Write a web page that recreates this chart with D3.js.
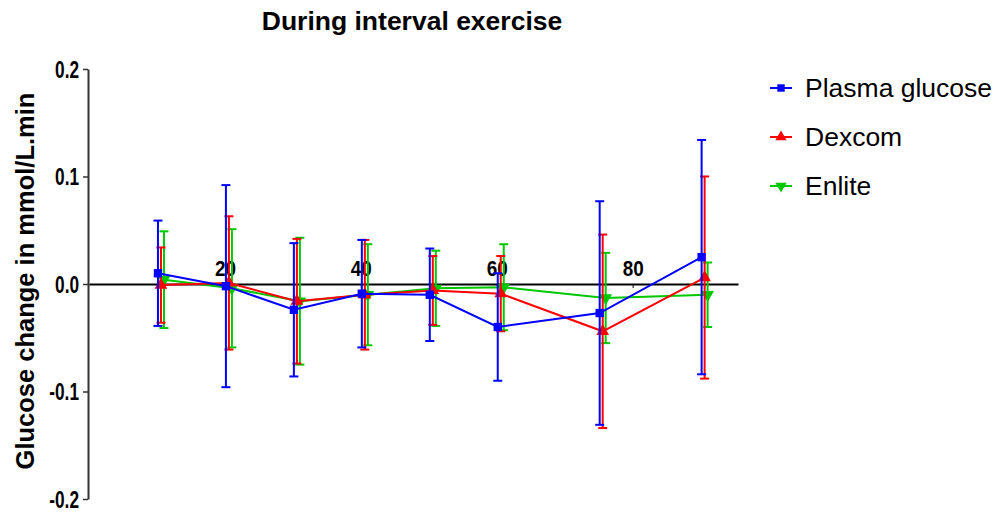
<!DOCTYPE html>
<html>
<head>
<meta charset="utf-8">
<script src="https://cdn.jsdelivr.net/npm/d3@7"></script>
<style>
  html, body { margin: 0; padding: 0; background: #fff; }
  svg { display: block; }
</style>
</head>
<body>
<svg id="chart" width="999" height="513"></svg>
<script>
// Sampling times (min) during the interval exercise session
const times = [10, 20, 30, 40, 50, 60, 75, 90];

// Mean rate of glucose change (mmol/L.min) and SD for each measurement method
const plasma    = [0.010, -0.002, -0.024, -0.009, -0.010, -0.040, -0.027, 0.025];
const plasmaErr = [0.049,  0.094,  0.062,  0.050,  0.043,  0.050,  0.104, 0.109];
const dexcom    = [-0.001, 0.001, -0.016, -0.010, -0.006, -0.009, -0.044, 0.006];
const dexcomErr = [0.035,  0.062,  0.058,  0.051,  0.032,  0.035,  0.090, 0.094];
const enlite    = [0.004, -0.004, -0.016, -0.010, -0.004, -0.003, -0.013, -0.010];
const enliteErr = [0.045,  0.055,  0.059,  0.047,  0.035,  0.040,  0.042, 0.030];

const seriesNames = ["Plasma glucose", "Dexcom", "Enlite"];
const xTicks = [20, 40, 60, 80];
const yTicks = [-0.2, -0.1, 0.0, 0.1, 0.2];
const yTickLabels = ["-0.2", "-0.1", "0.0", "0.1", "0.2"];

const series = [
  { name: seriesNames[0], values: plasma, errs: plasmaErr, color: "#0000ff", symbol: d3.symbolSquare, rotate: 0,   dodge: 1 },
  { name: seriesNames[1], values: dexcom, errs: dexcomErr, color: "#ff0000", symbol: d3.symbolTriangle, rotate: 0, dodge: 4 },
  { name: seriesNames[2], values: enlite, errs: enliteErr, color: "#00c800", symbol: d3.symbolTriangle, rotate: 180, dodge: 7 }
];

const FONT = "'Liberation Sans', Arial, Helvetica, sans-serif";
const svg = d3.select("#chart");

const x = d3.scaleLinear().domain([0, 95.5]).range([89, 738]);
const y = d3.scaleLinear().domain([-0.2, 0.2]).range([499, 69]);

// Title
svg.append("text")
  .attr("x", 412).attr("y", 30)
  .attr("text-anchor", "middle")
  .style("font-family", FONT)
  .style("font-weight", "bold")
  .style("font-size", "26.5px")
  .text("During interval exercise");

// Y axis title
svg.append("text")
  .attr("transform", "translate(34,281) rotate(-90)")
  .attr("text-anchor", "middle")
  .style("font-family", FONT)
  .style("font-weight", "bold")
  .style("font-size", "25.5px")
  .text("Glucose change in mmol/L.min");

// Y axis (condensed bold tick labels)
const yAxis = svg.append("g")
  .attr("transform", `translate(${x(0) - 1},0)`)
  .call(d3.axisLeft(y).tickValues(yTicks)
    .tickFormat((d, i) => yTickLabels[i])
    .tickSize(5).tickSizeOuter(0));
yAxis.select(".domain").attr("stroke", "#333").attr("stroke-width", 2);
yAxis.selectAll(".tick line").attr("stroke", "#333").attr("stroke-width", 1.5);
yAxis.selectAll(".tick text")
  .attr("x", -12)
  .attr("dy", "0.36em")
  .attr("transform", "scale(0.75,1)")
  .attr("fill", "#000")
  .style("font-family", FONT)
  .style("font-weight", "bold")
  .style("font-size", "23px");

// X axis drawn along y = 0, labels sit above the line
const xAxis = svg.append("g")
  .attr("transform", `translate(0,${y(0)})`)
  .call(d3.axisBottom(x).tickValues(xTicks).tickFormat(d3.format("d"))
    .tickSize(4).tickSizeOuter(0));
xAxis.select(".domain").attr("stroke", "#000").attr("stroke-width", 2);
xAxis.selectAll(".tick line").attr("stroke", "#000").attr("stroke-width", 1);
xAxis.selectAll(".tick text")
  .attr("y", -8).attr("dy", 0)
  .attr("transform", "scale(0.86,1)")
  .attr("fill", "#000")
  .style("font-family", FONT)
  .style("font-weight", "bold")
  .style("font-size", "22px");

// Data series: error bars, connecting line, markers
const line = d3.line();
const drawOrder = [series[2], series[1], series[0]];

drawOrder.forEach(s => {
  const g = svg.append("g");
  const pts = times.map((t, i) => ({
    px: x(t) + s.dodge,
    v: s.values[i],
    e: s.errs[i]
  }));

  const eb = g.append("g").attr("stroke", s.color).attr("stroke-width", 2).attr("fill", "none");
  pts.forEach(p => {
    eb.append("line").attr("x1", p.px).attr("x2", p.px)
      .attr("y1", y(p.v + p.e)).attr("y2", y(p.v - p.e));
    eb.append("line").attr("x1", p.px - 4.5).attr("x2", p.px + 4.5)
      .attr("y1", y(p.v + p.e)).attr("y2", y(p.v + p.e));
    eb.append("line").attr("x1", p.px - 4.5).attr("x2", p.px + 4.5)
      .attr("y1", y(p.v - p.e)).attr("y2", y(p.v - p.e));
  });

  g.append("path")
    .attr("d", line(pts.map(p => [p.px, y(p.v)])))
    .attr("fill", "none")
    .attr("stroke", s.color)
    .attr("stroke-width", 2);

  g.selectAll("path.marker")
    .data(pts)
    .join("path")
    .attr("class", "marker")
    .attr("d", d3.symbol().type(s.symbol).size(70))
    .attr("transform", p => `translate(${p.px},${y(p.v)}) rotate(${s.rotate})`)
    .attr("fill", s.color);
});

// Legend
const legend = svg.append("g");
series.forEach((s, i) => {
  const cy = 88 + i * 49;
  legend.append("line")
    .attr("x1", 770).attr("x2", 792).attr("y1", cy).attr("y2", cy)
    .attr("stroke", s.color).attr("stroke-width", 2);
  legend.append("path")
    .attr("d", d3.symbol().type(s.symbol).size(55))
    .attr("transform", `translate(781,${cy}) rotate(${s.rotate})`)
    .attr("fill", s.color);
  legend.append("text")
    .attr("x", 805).attr("y", cy + 9)
    .style("font-family", FONT)
    .style("font-size", "26.5px")
    .text(s.name);
});
</script>
</body>
</html>
